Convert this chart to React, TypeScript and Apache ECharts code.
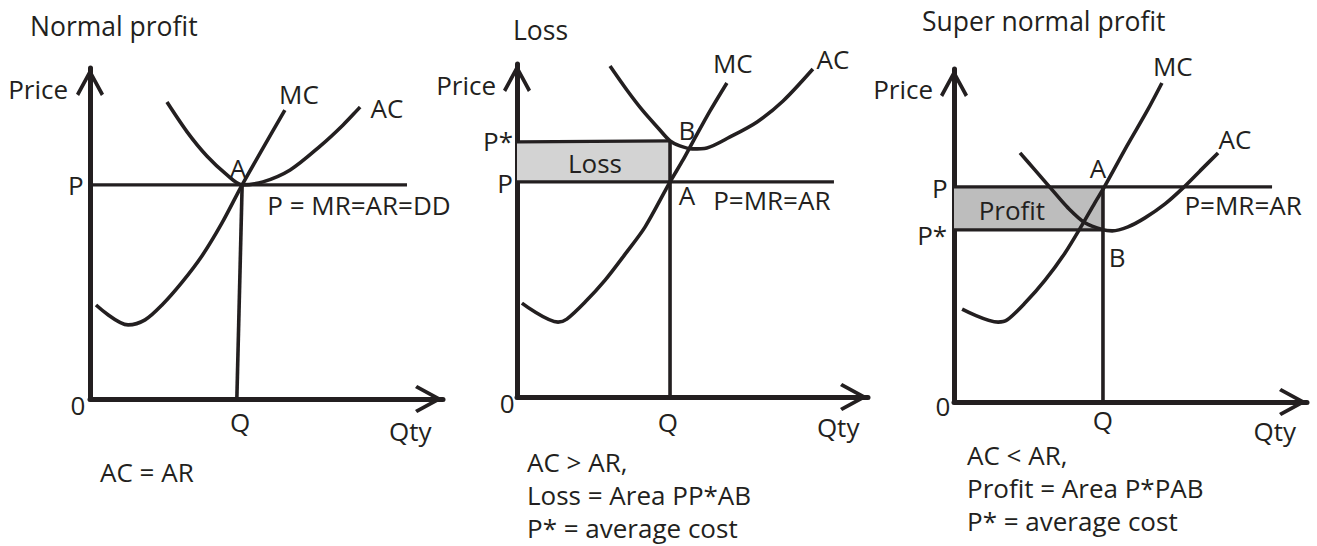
import React, { useEffect, useRef } from 'react';
import * as echarts from 'echarts';

// ---------- data (economic units: quantity 0-100, price 0-100 per panel) ----------
const panelTitles = ['Normal profit', 'Loss', 'Super normal profit'];

// Panel 1 – normal profit
const normalMC = [[1.7, 28.4], [10.8, 22.4], [15.6, 23.9], [20.4, 28.4], [26.1, 35.3], [31.7, 43.2], [37.4, 53.2], [43.1, 64.7], [49.0, 75.8], [55.2, 87.3]];
const normalAC = [[21.8, 89.7], [27.5, 80.7], [33.1, 73.4], [38.8, 67.7], [43.1, 64.7], [49.0, 65.6], [56.7, 69.2], [65.2, 76.4], [71.7, 82.8], [76.5, 88.2]];
const normalPriceLine = [[0, 64.7], [89.8, 64.7]];
const normalQtyLine = [[43.1, 64.7], [41.6, 0]];
const normalLabels: [string, number, number][] = [
  ['Price', -14.7, 93.7], ['Qty', 90.7, -9.7], ['0', -3.4, -1.8], ['P', -4.0, 64.7], ['Q', 42.5, -6.9],
  ['MC', 59.2, 92.1], ['AC', 84.1, 87.9], ['A', 41.9, 69.8], ['P = MR=AR=DD', 76.2, 58.6],
];
const normalCaption = ['AC = AR'];

// Panel 2 – loss
const lossMC = [[1.4, 28.2], [11.7, 22.5], [14.2, 23.4], [19.4, 28.5], [25.1, 35.1], [30.8, 42.9], [36.5, 51.1], [43.6, 64.6], [47.3, 71.2], [50.1, 76.6], [55.0, 85.9], [59.8, 94.3]];
const lossAC = [[26.5, 99.4], [31.3, 92.2], [35.9, 85.9], [40.2, 80.8], [43.6, 76.9], [46.4, 75.4], [49.9, 74.5], [54.1, 74.8], [60.7, 78.1], [68.4, 82.6], [75.8, 88.9], [84.3, 98.5]];
const lossPriceLine = [[0, 64.6], [90.3, 64.6]];
const lossCostLine = [[0, 76.6], [43.6, 76.9]];
const lossQtyLine = [[43.6, 76.9], [43.6, 0]];
const lossArea = { x0: 0, x1: 43.6, y0: 64.6, y1: 76.6 };
const lossLabels: [string, number, number][] = [
  ['Price', -14.5, 93.7], ['Qty', 91.5, -9.0], ['0', -2.8, -1.8], ['P', -3.4, 64.3], ['P*', -5.4, 76.9], ['Q', 43.0, -7.5],
  ['MC', 61.5, 100.3], ['AC', 90.0, 101.5], ['B', 48.4, 80.2], ['A', 48.4, 60.7], ['P=MR=AR', 72.6, 59.2], ['Loss', 22.2, 70.3],
];
const lossCaption = ['AC > AR,', 'Loss = Area PP*AB', 'P* = average cost'];

// Panel 3 – super normal profit
const profitMC = [[2.3, 27.9], [12.5, 24.0], [15.0, 24.6], [20.1, 29.7], [25.8, 36.6], [31.4, 44.7], [36.3, 53.2], [39.9, 59.8], [42.6, 64.6], [49.0, 76.9], [54.7, 87.4], [58.9, 95.8]];
const profitAC = [[18.7, 74.8], [22.9, 69.7], [27.8, 63.7], [32.3, 58.3], [37.1, 53.8], [42.2, 51.7], [44.8, 51.4], [49.3, 52.6], [54.1, 55.3], [59.8, 59.5], [64.9, 64.3], [69.7, 69.4], [74.8, 74.8]];
const profitPriceLine = [[0, 64.6], [90.1, 64.6]];
const profitCostLine = [[0, 51.7], [42.2, 51.7]];
const profitQtyLine = [[42.2, 64.6], [42.2, 0]];
const profitArea = { x0: 0, x1: 42.2, y0: 51.7, y1: 64.6 };
const profitLabels: [string, number, number][] = [
  ['Price', -14.4, 94.0], ['Qty', 90.9, -8.7], ['0', -3.1, -1.2], ['P', -4.0, 64.3], ['P*', -6.2, 50.2], ['Q', 42.2, -5.4],
  ['MC', 62.0, 100.9], ['AC', 79.6, 79.0], ['A', 40.8, 70.3], ['B', 46.2, 43.5], ['P=MR=AR', 81.9, 59.2], ['Profit', 16.4, 57.7],
];
const profitCaption = ['AC < AR,', 'Profit = Area P*PAB', 'P* = average cost'];

// ---------- styling / layout ----------
const INK = '#231f20';
const FONT = "'Open Sans', 'Noto Sans', sans-serif";
const FS = 26;
const grids = [
  { left: 90, top: 68, width: 353, height: 331 },
  { left: 517, top: 64, width: 351, height: 333 },
  { left: 954, top: 69, width: 353, height: 333 },
];
const titlePos = [[30, 26], [513, 30], [922, 21]];
const captionPos = [[100, 472, 33], [527, 462, 33], [967, 455, 33]];
const ARROW = 'path://M50,0 L100,92 L89,100 L50,28 L11,100 L0,92 Z';

function curve(i: number, data: number[][], width = 3.6, smooth: number | boolean = 0.3) {
  return {
    type: 'line', xAxisIndex: i, yAxisIndex: i, data, smooth, symbol: 'none', showSymbol: false,
    clip: false, silent: true, z: 5,
    lineStyle: { color: INK, width },
  };
}

function labelSeries(i: number, labels: [string, number, number][]) {
  return {
    type: 'scatter', xAxisIndex: i, yAxisIndex: i, symbol: 'circle', symbolSize: 0, clip: false, silent: true, z: 10,
    itemStyle: { color: 'transparent', opacity: 1 },
    label: { show: true, position: 'inside', formatter: '{b}', color: INK, opacity: 1, fontFamily: FONT, fontSize: FS },
    data: labels.map(([name, x, y]) => ({ name, value: [x, y] })),
  };
}

function areaOn(i: number, data: number[][], area: { x0: number; x1: number; y0: number; y1: number }, color: string) {
  return {
    ...curve(i, data, 3.2, false),
    markArea: {
      silent: true, z: 1,
      itemStyle: { color, borderWidth: 0 },
      label: { show: false },
      data: [[{ coord: [area.x0, area.y0] }, { coord: [area.x1, area.y1] }]],
    },
  };
}

export default function App() {
  const ref = useRef<HTMLDivElement>(null);
  useEffect(() => {
    document.body.style.margin = '0';
    const chart = echarts.init(ref.current!, null, { renderer: 'svg' });
    const axisBase = {
      type: 'value', min: 0, max: 100,
      axisLine: {
        show: true, onZero: false,
        symbol: ['none', ARROW], symbolSize: [28, 28], symbolOffset: [0, -14],
        lineStyle: { color: INK, width: 5 },
      },
      axisTick: { show: false }, axisLabel: { show: false }, splitLine: { show: false },
    };
    const captions = [normalCaption, lossCaption, profitCaption];
    const graphic: any[] = [];
    panelTitles.forEach((t, i) => {
      graphic.push({
        type: 'text', x: titlePos[i][0], y: titlePos[i][1], silent: true,
        style: { text: t, fill: INK, fontFamily: FONT, fontSize: 26.5, verticalAlign: 'middle', align: 'left' },
      });
    });
    captions.forEach((lines, i) => {
      lines.forEach((line, j) => {
        graphic.push({
          type: 'text', x: captionPos[i][0], y: captionPos[i][1] + j * captionPos[i][2], silent: true,
          style: { text: line, fill: INK, fontFamily: FONT, fontSize: FS, verticalAlign: 'middle', align: 'left' },
        });
      });
    });
    chart.setOption({
      animation: false,
      backgroundColor: '#ffffff',
      textStyle: { fontFamily: FONT },
      grid: grids,
      xAxis: grids.map((_, i) => ({ ...axisBase, gridIndex: i, position: 'bottom' })),
      yAxis: grids.map((_, i) => ({ ...axisBase, gridIndex: i, position: 'left' })),
      graphic,
      series: [
        // panel 1
        curve(0, normalMC),
        curve(0, normalAC),
        curve(0, normalPriceLine, 3.2, false),
        curve(0, normalQtyLine, 3.6, false),
        labelSeries(0, normalLabels),
        // panel 2
        curve(1, lossMC),
        curve(1, lossAC),
        areaOn(1, lossCostLine, lossArea, '#d3d3d3'),
        curve(1, lossPriceLine, 3.2, false),
        curve(1, lossQtyLine, 3.6, false),
        labelSeries(1, lossLabels),
        // panel 3
        curve(2, profitMC),
        curve(2, profitAC),
        areaOn(2, profitCostLine, profitArea, '#bdbdbd'),
        curve(2, profitPriceLine, 3.2, false),
        curve(2, profitQtyLine, 3.6, false),
        labelSeries(2, profitLabels),
      ],
    });
    return () => chart.dispose();
  }, []);
  return <div ref={ref} style={{ width: 1317, height: 546 }} />;
}
